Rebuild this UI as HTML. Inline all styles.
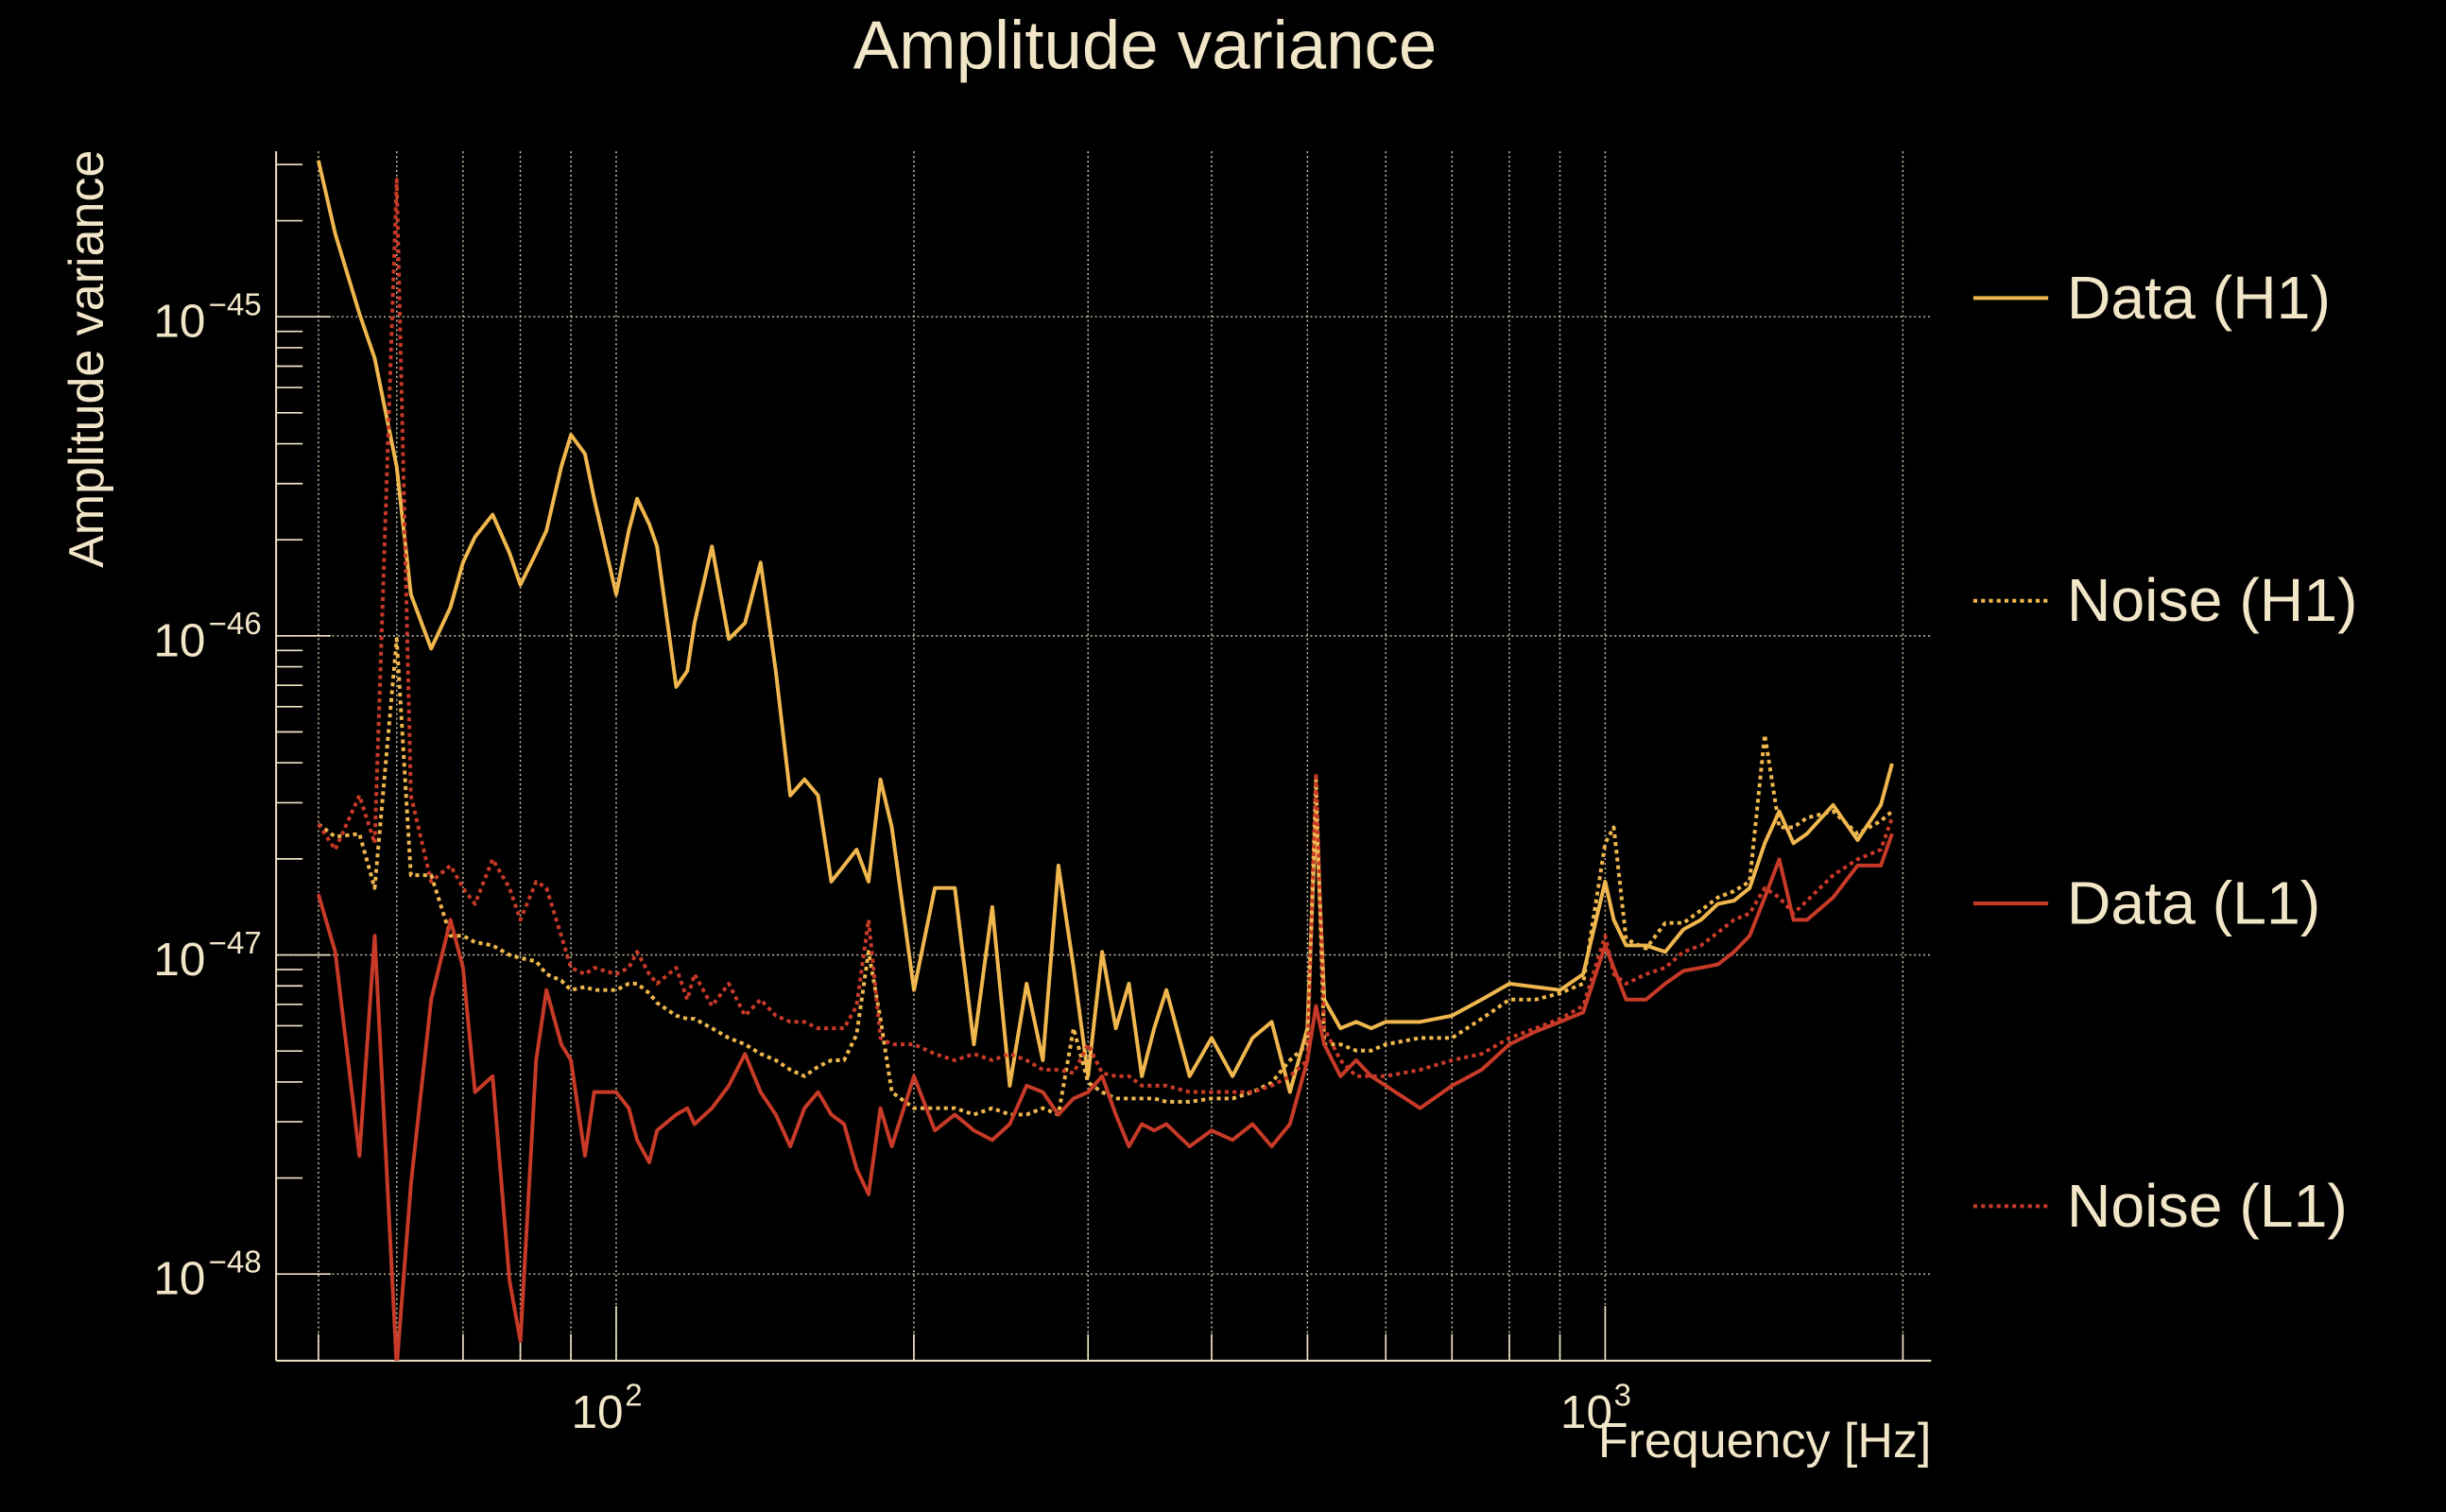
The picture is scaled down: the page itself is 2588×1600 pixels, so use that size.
<!DOCTYPE html>
<html><head><meta charset="utf-8"><style>
html,body{margin:0;padding:0;background:#000;width:2588px;height:1600px;overflow:hidden}
svg{display:block}
text{font-family:"Liberation Sans",sans-serif;fill:#f2e6c8}
</style></head><body>
<svg id="chart" xmlns="http://www.w3.org/2000/svg" width="2588" height="1600" viewBox="0 0 1568 969" preserveAspectRatio="none">
<rect width="1568" height="969" fill="#000"/>
<text x="734" y="44" font-size="44" text-anchor="middle">Amplitude variance</text>
<text transform="translate(66,230) rotate(-90)" font-size="31.5" text-anchor="middle">Amplitude variance</text>
<text x="1238" y="934" font-size="31.5" text-anchor="end">Frequency [Hz]</text>
<g id="grid"></g>
<g id="axes"></g>
<g id="series"></g>
<g id="legend"></g>
</svg>
<script>
const freqs=[50,52,55,57,60,62,65,68,70,72,75,78,80,83,85,88,90,93,95,100,103,105,108,110,115,118,120,125,130,135,140,145,150,155,160,165,170,175,180,185,190,200,210,220,230,240,250,260,270,280,290,300,310,320,330,340,350,360,380,400,420,440,460,480,500,510,520,540,560,580,600,650,700,750,800,850,900,950,1000,1020,1050,1100,1150,1200,1250,1300,1350,1400,1450,1500,1550,1600,1700,1800,1900,1950];
// log10 of amplitude variance
const dataH1Log=[-44.51,-44.74,-44.99,-45.13,-45.47,-45.87,-46.04,-45.91,-45.77,-45.69,-45.62,-45.74,-45.84,-45.74,-45.67,-45.47,-45.37,-45.43,-45.57,-45.87,-45.67,-45.57,-45.65,-45.72,-46.16,-46.11,-45.96,-45.72,-46.01,-45.96,-45.77,-46.11,-46.50,-46.45,-46.50,-46.77,-46.72,-46.67,-46.77,-46.45,-46.60,-47.11,-46.79,-46.79,-47.28,-46.85,-47.41,-47.09,-47.33,-46.72,-47.04,-47.38,-46.99,-47.23,-47.09,-47.38,-47.23,-47.11,-47.38,-47.26,-47.38,-47.26,-47.21,-47.43,-47.23,-46.55,-47.14,-47.23,-47.21,-47.23,-47.21,-47.21,-47.19,-47.14,-47.09,-47.10,-47.11,-47.06,-46.77,-46.89,-46.97,-46.97,-46.99,-46.92,-46.89,-46.84,-46.83,-46.79,-46.65,-46.55,-46.65,-46.62,-46.53,-46.64,-46.53,-46.40];
const noiseH1Log=[-46.59,-46.63,-46.62,-46.79,-46.01,-46.75,-46.75,-46.94,-46.94,-46.96,-46.97,-47.00,-47.01,-47.02,-47.06,-47.08,-47.11,-47.10,-47.11,-47.11,-47.09,-47.09,-47.12,-47.15,-47.19,-47.20,-47.20,-47.23,-47.26,-47.28,-47.31,-47.33,-47.36,-47.38,-47.35,-47.33,-47.33,-47.25,-46.99,-47.20,-47.43,-47.48,-47.48,-47.48,-47.50,-47.48,-47.50,-47.50,-47.48,-47.50,-47.23,-47.40,-47.43,-47.45,-47.45,-47.45,-47.45,-47.46,-47.46,-47.45,-47.45,-47.43,-47.40,-47.33,-47.28,-46.45,-47.28,-47.28,-47.30,-47.30,-47.28,-47.26,-47.26,-47.20,-47.14,-47.14,-47.12,-47.09,-46.65,-46.60,-46.95,-46.98,-46.90,-46.90,-46.86,-46.82,-46.80,-46.77,-46.31,-46.60,-46.60,-46.57,-46.55,-46.62,-46.58,-46.55];
const dataL1Log=[-46.81,-46.99,-47.63,-46.94,-48.29,-47.72,-47.14,-46.89,-47.04,-47.43,-47.38,-48.02,-48.21,-47.33,-47.11,-47.28,-47.33,-47.63,-47.43,-47.43,-47.48,-47.58,-47.65,-47.55,-47.50,-47.48,-47.53,-47.48,-47.41,-47.31,-47.43,-47.50,-47.60,-47.48,-47.43,-47.50,-47.53,-47.67,-47.75,-47.48,-47.60,-47.38,-47.55,-47.50,-47.55,-47.58,-47.53,-47.41,-47.43,-47.50,-47.45,-47.43,-47.38,-47.50,-47.60,-47.53,-47.55,-47.53,-47.60,-47.55,-47.58,-47.53,-47.60,-47.53,-47.33,-47.16,-47.28,-47.38,-47.33,-47.38,-47.41,-47.48,-47.41,-47.36,-47.28,-47.24,-47.21,-47.18,-46.97,-47.04,-47.14,-47.14,-47.09,-47.05,-47.04,-47.03,-46.99,-46.94,-46.82,-46.70,-46.89,-46.89,-46.82,-46.72,-46.72,-46.62];
const noiseL1Log=[-46.59,-46.67,-46.50,-46.65,-44.57,-46.50,-46.77,-46.72,-46.79,-46.84,-46.70,-46.79,-46.89,-46.77,-46.79,-46.94,-47.04,-47.06,-47.04,-47.06,-47.04,-46.99,-47.06,-47.09,-47.04,-47.14,-47.06,-47.16,-47.09,-47.19,-47.14,-47.19,-47.21,-47.21,-47.23,-47.23,-47.23,-47.16,-46.89,-47.26,-47.28,-47.28,-47.31,-47.33,-47.31,-47.33,-47.31,-47.33,-47.36,-47.36,-47.37,-47.28,-47.37,-47.38,-47.38,-47.41,-47.41,-47.41,-47.43,-47.43,-47.43,-47.43,-47.41,-47.38,-47.33,-46.43,-47.23,-47.33,-47.38,-47.38,-47.38,-47.36,-47.33,-47.31,-47.26,-47.23,-47.20,-47.16,-46.94,-47.06,-47.09,-47.06,-47.04,-46.99,-46.97,-46.93,-46.89,-46.87,-46.79,-46.82,-46.87,-46.83,-46.75,-46.70,-46.67,-46.57];
const yTickExps=[-45,-46,-47,-48];
const xTickExps=[2,3];
const legendLabels=["Data (H1)","Noise (H1)","Data (L1)","Noise (L1)"];

const NS="http://www.w3.org/2000/svg";
const L=177,R=1238,T=97,B=872;
const xs=f=>395+634*(Math.log10(f)-2);
const ys=e=>203+204.5*(-45-e);
const C="#f2e6c8";
function mk(tag,attrs,parent){const el=document.createElementNS(NS,tag);for(const k in attrs)el.setAttribute(k,attrs[k]);parent.appendChild(el);return el;}
const grid=document.getElementById('grid'),axes=document.getElementById('axes'),ser=document.getElementById('series'),leg=document.getElementById('legend');

const gf=[50,60,70,80,90,100,200,300,400,500,600,700,800,900,1000,2000];
gf.forEach(f=>{const g=mk('line',{x1:xs(f),x2:xs(f),y1:T,y2:B,stroke:C,'stroke-width':0.9,'stroke-dasharray':'1.2 1.8',opacity:0.85},grid);


const t=mk('line',{x1:xs(f),x2:xs(f),y1:B,y2:B-(f===100||f===1000?35:17),stroke:C,'stroke-width':1},axes);

});
yTickExps.forEach(e=>{const g=mk('line',{x1:L,x2:R,y1:ys(e),y2:ys(e),stroke:C,'stroke-width':0.9,'stroke-dasharray':'1.2 1.8',opacity:0.85},grid);


const tx=mk('text',{x:133,y:ys(e)+13,'font-size':30,'text-anchor':'middle'},axes);


tx.textContent='10';
const sp=mk('tspan',{dy:-14,'font-size':20,dx:2},tx);sp.textContent='\u2212'+(-e);
for(let m=1;m<10;m++){const v=e+Math.log10(m);const y=ys(v);if(y<T||y>B)continue;
const t=mk('line',{x1:L,x2:L+(m===1?35:17),y1:y,y2:y,stroke:C,'stroke-width':1},axes);

}
for(let m=2;m<10;m++){const y=ys(e+1+Math.log10(m));if(y<T||y>B||e!==-45)continue;
const t=mk('line',{x1:L,x2:L+17,y1:y,y2:y,stroke:C,'stroke-width':1},axes);

}
});
xTickExps.forEach(p=>{const tx=mk('text',{x:xs(Math.pow(10,p))-6,y:915,'font-size':30,'text-anchor':'middle'},axes);


tx.textContent='10';const sp=mk('tspan',{dy:-14,'font-size':20,dx:1},tx);sp.textContent=String(p);});
const sl=mk('line',{x1:L,x2:L,y1:T,y2:B,stroke:C,'stroke-width':1.2},axes);


const bl=mk('line',{x1:L,x2:R,y1:B,y2:B,stroke:C,'stroke-width':1.2},axes);



const cp=mk('clipPath',{id:'pc'},document.getElementById('chart'));mk('rect',{x:L,y:T,width:R-L,height:B-T},cp);
ser.setAttribute('clip-path','url(#pc)');
const specs=[[dataH1Log,'#f0b74e',null,'data-h1-line'],[noiseH1Log,'#f0b74e','2.5 2.5','noise-h1-line'],[dataL1Log,'#c83a28',null,'data-l1-line'],[noiseL1Log,'#c83a28','2.5 2.5','noise-l1-line']];
specs.forEach(([arr,col,dash,name])=>{
const d=arr.map((v,i)=>(i?'L':'M')+xs(freqs[i]).toFixed(1)+','+ys(v).toFixed(1)).join(' ');
const p=mk('path',{d:d,fill:'none',stroke:col,'stroke-width':2.4,'stroke-linejoin':'round'},ser);
if(dash)p.setAttribute('stroke-dasharray',dash);

});
legendLabels.forEach((lab,i)=>{const y=191+194*i;const s=specs[i];
const ln=mk('line',{x1:1265,x2:1313,y1:y,y2:y,stroke:s[1],'stroke-width':2.4},leg);
if(s[2])ln.setAttribute('stroke-dasharray','2.5 2.5');


const t=mk('text',{x:1325,y:y+13,'font-size':39},leg);


t.textContent=lab;});
</script>
</body></html>
